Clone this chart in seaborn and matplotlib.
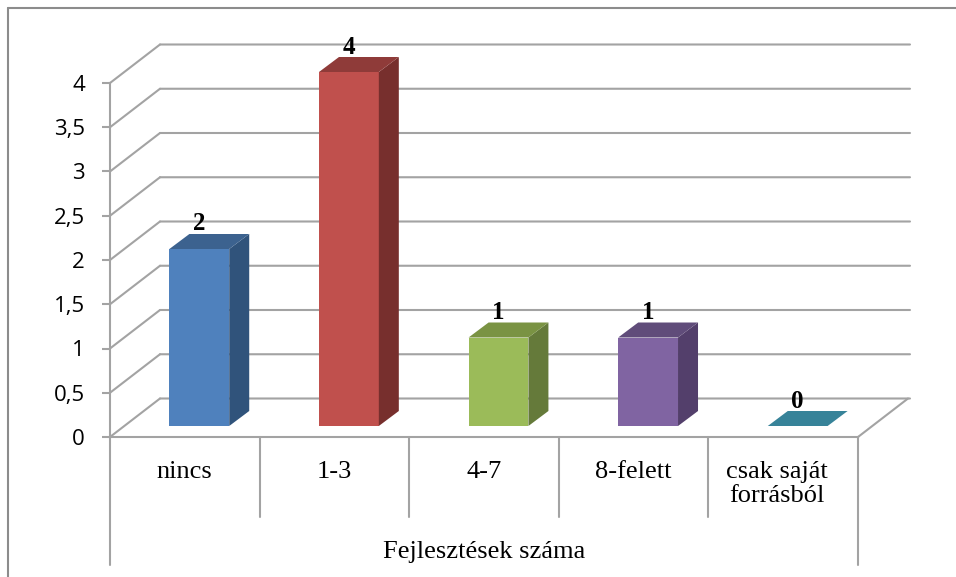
import matplotlib
matplotlib.use("Agg")
import matplotlib.pyplot as plt
import pandas as pd
import seaborn as sns
from matplotlib.lines import Line2D
from matplotlib.patches import Polygon

categories = ["nincs", "1-3", "4-7", "8-felett", "csak saját\nforrásból"]
values = [2, 4, 1, 1, 0]
y_ticks = [0, 0.5, 1, 1.5, 2, 2.5, 3, 3.5, 4]
y_tick_labels = ["0", "0,5", "1", "1,5", "2", "2,5", "3", "3,5", "4"]
group_label = "Fejlesztések száma"

front_colors = ["#4F81BD", "#C0504D", "#9BBB59", "#8064A2", "#4BACC6"]
side_colors = ["#30537B", "#772F2D", "#657A3A", "#533F6B", "#378399"]
top_colors = ["#3C628F", "#8F3B39", "#7A9343", "#604C7A", "#378399"]

W, H = 956, 577
GRID = "#A3A3A3"
LW = 1.5

# plot box in pixels, y measured from the top of the picture
X0, X1, Y0, Y4 = 110, 858, 437, 83
BACK_DX, BACK_DY = 50, 38.5
BAR_DX, BAR_DY = 14.5, 11
CUBE_DX, CUBE_DY = 20, 15


def make_axes(fig, dx=0, dy=0, extra=0):
    pos = [(X0 + dx) / W, (H - Y0 + dy) / H, (X1 - X0 + extra) / W, (Y0 - Y4) / H]
    ax = fig.add_axes(pos, facecolor="none")
    ax.set_xlim(-0.5, 4.5)
    ax.set_ylim(0, 4)
    sns.despine(ax=ax, left=True, bottom=True)
    ax.tick_params(left=False, bottom=False, labelleft=False, labelbottom=False)
    ax.set_xlabel("")
    ax.set_ylabel("")
    return ax


sns.set_theme(style="white")
fig = plt.figure(figsize=(W / 100, H / 100), dpi=100, facecolor="white")

# the chart frame only shows on the left and top
frame = dict(transform=fig.transFigure, color="#8C8C8C", lw=LW)
fig.add_artist(Line2D([7.5 / W, 7.5 / W], [0, 1 - 7.5 / H], **frame))
fig.add_artist(Line2D([7.5 / W, 1], [1 - 7.5 / H, 1 - 7.5 / H], **frame))

# back wall gridlines
ax_back = make_axes(fig, BACK_DX, BACK_DY, extra=2)
ax_back.set_yticks(y_ticks)
ax_back.grid(axis="y", color=GRID, lw=LW, clip_on=False)
ax_back.set_axisbelow(True)
ax_back.tick_params(labelleft=False, left=False)
for line in ax_back.get_ygridlines():
    line.set_clip_on(False)
    line.set_snap(False)

# front plane: axis, tick labels, floor and side wall
ax = make_axes(fig)
ux = BACK_DX / ((X1 - X0) / 5)
uy = BACK_DY / ((Y0 - Y4) / 4)
for v in y_ticks:
    ax.plot([-0.5, -0.5 + ux], [v, v + uy], color=GRID, lw=LW, clip_on=False)
ax.plot([4.5, 4.5 + ux], [0, uy], color=GRID, lw=LW, clip_on=False)
for side in ["left", "bottom"]:
    ax.spines[side].set_visible(True)
    ax.spines[side].set_color(GRID)
    ax.spines[side].set_linewidth(LW)
ax.set_yticks(y_ticks)
ax.set_yticklabels(y_tick_labels, fontfamily="Open Sans", fontsize=16, color="black")
ax.tick_params(axis="y", left=True, labelleft=True, length=6, width=LW, color=GRID, pad=12)
ax.set_xticks([])

# category dividers and labels under the floor
seg = ax.get_xaxis_transform()
for i in range(6):
    bottom = -128 / (Y0 - Y4) if i in (0, 5) else -80 / (Y0 - Y4)
    ax.plot([i - 0.5, i - 0.5], [0, bottom], transform=seg, color=GRID, lw=LW, clip_on=False)
for i, name in enumerate(categories):
    ax.text(i - 0.04 if i == 4 else i, -24 / (Y0 - Y4), name, transform=seg, ha="center", va="top",
            fontfamily="Liberation Serif", fontsize=19, color="black", linespacing=1.1)
ax.text(2, -115 / (Y0 - Y4), group_label, transform=seg, ha="center", va="center",
        fontfamily="Liberation Serif", fontsize=19, color="black")

# bars sit part way back on the floor
ax_bar = make_axes(fig, BAR_DX, BAR_DY)
df = pd.DataFrame({"category": categories, "value": values})
sns.barplot(data=df, x="category", y="value", hue="category", palette=front_colors, legend=False,
            width=0.4, saturation=1, linewidth=0, ax=ax_bar, order=categories)
ax_bar.set_xlim(-0.5, 4.5)
ax_bar.set_ylim(0, 4)
ax_bar.set_xlabel("")
ax_bar.set_ylabel("")
ax_bar.tick_params(left=False, bottom=False, labelleft=False, labelbottom=False)

cx = CUBE_DX / ((X1 - X0) / 5)
cy = CUBE_DY / ((Y0 - Y4) / 4)
bars = sorted([p for p in ax_bar.patches], key=lambda p: p.get_x())
for bar, side, top, val in zip(bars, side_colors, top_colors, values):
    x, w, h = bar.get_x(), bar.get_width(), bar.get_height()
    if h > 0:
        ax_bar.add_patch(Polygon([(x + w, 0), (x + w + cx, cy), (x + w + cx, h + cy), (x + w, h)],
                                 fc=side, ec="none", clip_on=False))
    ax_bar.add_patch(Polygon([(x, h), (x + w, h), (x + w + cx, h + cy), (x + cx, h + cy)],
                             fc=top, ec="none", clip_on=False))
    ax_bar.annotate(str(val), (x + w / 2, h), xytext=(0, 25 * 0.72), textcoords="offset points",
                    ha="center", va="center", fontfamily="Liberation Serif", fontweight="bold",
                    fontsize=18, color="black", annotation_clip=False)

fig.savefig("out.png", dpi=100)
